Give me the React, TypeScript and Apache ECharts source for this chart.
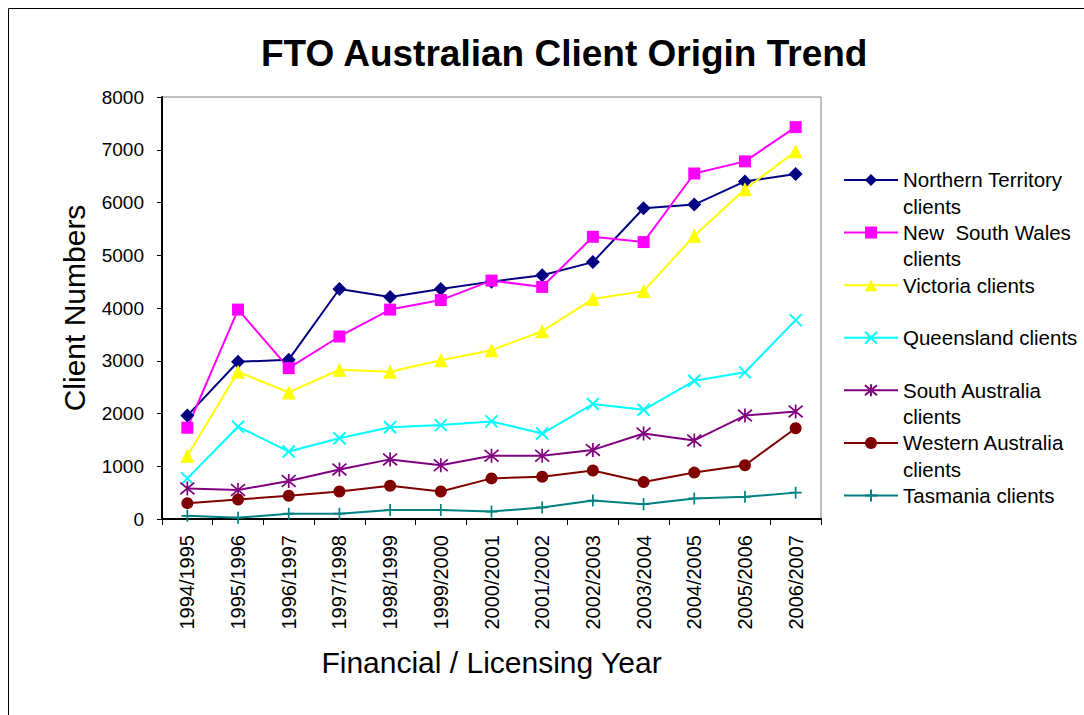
import React, { useEffect, useRef } from "react";
import * as echarts from "echarts";

const years = [
  "1994/1995", "1995/1996", "1996/1997", "1997/1998", "1998/1999", "1999/2000",
  "2000/2001", "2001/2002", "2002/2003", "2003/2004", "2004/2005", "2005/2006", "2006/2007",
];
const northernTerritory = [1960, 2980, 3020, 4360, 4210, 4360, 4500, 4620, 4870, 5890, 5960, 6400, 6540];
const newSouthWales = [1730, 3970, 2860, 3460, 3970, 4150, 4520, 4400, 5350, 5250, 6550, 6780, 7430];
const victoria = [1200, 2790, 2400, 2830, 2790, 3010, 3200, 3560, 4170, 4320, 5370, 6250, 6970];
const queensland = [770, 1750, 1280, 1530, 1740, 1780, 1850, 1620, 2180, 2070, 2620, 2780, 3770];
const southAustralia = [580, 550, 720, 940, 1130, 1020, 1200, 1200, 1310, 1620, 1490, 1960, 2040];
const westernAustralia = [300, 370, 440, 520, 630, 520, 770, 800, 920, 700, 880, 1020, 1720];
const tasmania = [60, 25, 100, 100, 170, 170, 140, 220, 350, 280, 390, 420, 500];

const seriesNames = [
  "Northern Territory clients",
  "New  South Wales clients",
  "Victoria clients",
  "Queensland clients",
  "South Australia clients",
  "Western Australia clients",
  "Tasmania clients",
];
const legendLabels = [
  " \nNorthern Territory\nclients",
  " \nNew  South Wales\nclients",
  " \nVictoria clients\n ",
  " \nQueensland clients\n ",
  " \nSouth Australia\nclients",
  " \nWestern Australia\nclients",
  " \nTasmania clients\n ",
];

const FONT = "'Liberation Sans', Arial, sans-serif";

export default function App() {
  const ref = useRef<HTMLDivElement>(null);
  useEffect(() => {
    document.body.style.margin = "0";
    if (!ref.current) return;
    const chart = echarts.init(ref.current, null, { renderer: "svg" });

    const X_PATH = "path://M0,0L10,10M10,0L0,10";
    const STAR_PATH = "path://M0,0L10,10M10,0L0,10M5,-1L5,11";
    const PLUS_PATH = "path://M5,0L5,10M0,5L10,5";

    const defs: any[] = [
      { data: northernTerritory, color: "#000080", symbol: "diamond", size: 14 },
      { data: newSouthWales, color: "#FF00FF", symbol: "rect", size: 12 },
      { data: victoria, color: "#FFFF00", symbol: "triangle", size: 14 },
      { data: queensland, color: "#00FFFF", symbol: X_PATH, size: 12, stroke: 2 },
      { data: southAustralia, color: "#800080", symbol: STAR_PATH, size: 14, stroke: 1.7 },
      { data: westernAustralia, color: "#800000", symbol: "circle", size: 12 },
      { data: tasmania, color: "#008080", symbol: PLUS_PATH, size: 12, stroke: 1.7 },
    ];

    const series = defs.map((d, i) => ({
      name: seriesNames[i],
      type: "line",
      data: d.data,
      symbol: d.symbol,
      symbolSize: d.size,
      showAllSymbol: true,
      lineStyle: { color: d.color, width: 2 },
      itemStyle: d.stroke
        ? { color: d.color, borderColor: d.color, borderWidth: d.stroke }
        : { color: d.color, borderWidth: 0 },
      emphasis: { disabled: true },
    }));

    chart.setOption({
      animation: false,
      backgroundColor: "#ffffff",
      textStyle: { fontFamily: FONT },
      title: {
        text: "FTO Australian Client Origin Trend",
        left: 261,
        top: 33,
        padding: 0,
        textStyle: { fontFamily: FONT, fontSize: 37, fontWeight: "bold", color: "#000", lineHeight: 40 },
      },
      graphic: [
        {
          type: "rect",
          shape: { x: 8.5, y: 8.5, width: 1300, height: 1000 },
          style: { fill: "none", stroke: "#000", lineWidth: 1 },
          silent: true,
        },
      ],
      legend: {
        orient: "vertical",
        left: 843,
        top: 140.5,
        padding: 0,
        itemWidth: 54,
        itemHeight: 15,
        itemGap: -26.3,
        data: seriesNames,
        formatter: (name: string) => legendLabels[seriesNames.indexOf(name)],
        textStyle: { fontFamily: FONT, fontSize: 20.5, color: "#000", lineHeight: 26.3 },
        selectedMode: false,
      },
      grid: {
        left: 162,
        right: 263,
        top: 97,
        bottom: 196,
        show: true,
        borderColor: "#808080",
        borderWidth: 1,
        backgroundColor: "transparent",
      },
      xAxis: {
        type: "category",
        data: years,
        boundaryGap: true,
        name: "Financial / Licensing Year",
        nameLocation: "middle",
        nameGap: 128,
        nameTextStyle: { fontFamily: FONT, fontSize: 30, color: "#000" },
        axisLine: { show: true, lineStyle: { color: "#000", width: 2 } },
        axisTick: { show: true, length: 6, interval: 0, lineStyle: { color: "#000" } },
        axisLabel: { interval: 0, rotate: 90, margin: 16, fontFamily: FONT, fontSize: 20, color: "#000" },
        splitLine: { show: false },
      },
      yAxis: {
        type: "value",
        min: 0,
        max: 8000,
        interval: 1000,
        name: "Client Numbers",
        nameLocation: "middle",
        nameGap: 73,
        nameTextStyle: { fontFamily: FONT, fontSize: 30, color: "#000" },
        axisLine: { show: true, lineStyle: { color: "#000", width: 2 } },
        axisTick: { show: true, length: 5, lineStyle: { color: "#000" } },
        axisLabel: {
          margin: 18,
          fontFamily: FONT,
          fontSize: 19,
          color: "#000",
          formatter: (v: number) => String(v),
        },
        splitLine: { show: false },
      },
      series,
    });

    return () => chart.dispose();
  }, []);

  return <div ref={ref} style={{ width: 1084, height: 715 }} />;
}
